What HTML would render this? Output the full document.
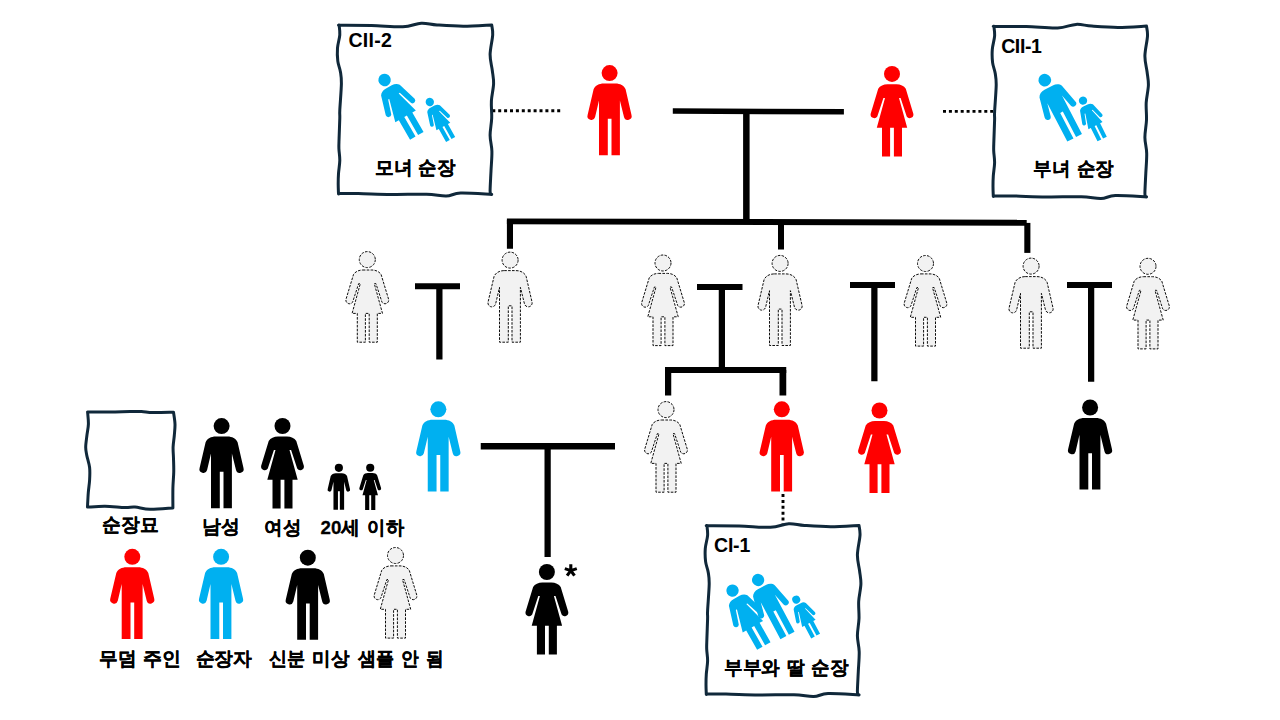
<!DOCTYPE html>
<html><head><meta charset="utf-8"><style>
html,body{margin:0;padding:0;background:#fff;width:1280px;height:720px;overflow:hidden}
svg{position:absolute;left:0;top:0;font-family:"Liberation Sans",sans-serif}
</style></head><body>
<svg width="1280" height="720" viewBox="0 0 1280 720">
<defs>
<g id="m"><circle cx="22.1" cy="8.1" r="8"/><path d="M16.2,18.6 H28 C32.5,18.6 36.6,20.7 38.1,24.3 L44,49.9 A3.85,3.85 0 0 1 36.5,52.0 L32.4,35.4 V90.2 H24 V53.8 H20.3 V90.2 H11.5 V35.4 L7.6,52.0 A3.85,3.85 0 0 1 0.1,49.9 L6.1,24.3 C7.6,20.7 11.7,18.6 16.2,18.6 Z"/></g>
<g id="f"><circle cx="22" cy="8" r="8"/><path d="M17.5,18.4 H26.5 C30.5,18.4 34,20 35.8,22.9 L43.4,48 A3.7,3.7 0 0 1 36.7,50.6 L30.6,32 H29 L37.2,61.8 H32 V90.6 H23.9 V61.8 H20.1 V90.6 H12 V61.8 H6.8 L15,32 H13.4 L7.3,50.6 A3.7,3.7 0 0 1 0.6,48 L8.2,22.9 C10,20 13.5,18.4 17.5,18.4 Z"/></g>
</defs>
<g fill="#000">
<polygon points="672.8,108.3 843.9,109 843.9,114.5 672.8,113.8"/>
<rect x="743.1" y="111" width="6.5" height="110"/>
<polygon points="506.9,218.4 1026.7,219.8 1026.7,225.7 506.9,224.3"/>
<rect x="506.9" y="220" width="6.100000000000023" height="28.75"/>
<rect x="778" y="222" width="6" height="27.5"/>
<rect x="1024.3" y="222.9" width="6.100000000000136" height="30.0"/>
<rect x="415" y="283.25" width="45" height="6.0"/>
<rect x="436.25" y="286" width="6.25" height="73.5"/>
<rect x="697" y="284" width="45.5" height="6"/>
<rect x="718.75" y="287" width="6.25" height="83"/>
<rect x="665" y="367" width="121.25" height="6"/>
<rect x="665" y="370" width="6.25" height="25.5"/>
<rect x="779.5" y="370" width="6.75" height="25.5"/>
<rect x="850" y="282" width="45" height="6"/>
<rect x="871.25" y="285" width="6.25" height="96.25"/>
<rect x="1067" y="282" width="45" height="6"/>
<rect x="1088" y="285" width="6.25" height="96.75"/>
<rect x="480.75" y="443" width="134.25" height="6.5"/>
<rect x="544.5" y="446" width="6.25" height="111"/>
</g>
<g stroke="#000" stroke-width="2.9" stroke-dasharray="3 2.9">
<line x1="492.3" y1="110.8" x2="562" y2="110.8"/>
<line x1="943" y1="111.4" x2="993" y2="111.4"/>
<line x1="783" y1="494" x2="783" y2="524"/>
</g>
<path d="M338.50,25.20 C343.99,25.23 360.71,25.13 371.44,25.40 C382.16,25.67 394.55,27.17 402.84,26.80 C411.14,26.43 415.53,23.52 421.23,23.20 C426.92,22.88 430.01,24.40 437.01,24.90 C444.00,25.40 454.09,26.20 463.20,26.20 C472.32,26.20 486.95,25.12 491.70,24.90 L491.70,25.00 C491.87,26.63 492.97,29.87 492.70,34.80 C492.43,39.73 490.17,48.63 490.10,54.58 C490.03,60.52 491.72,65.62 492.30,70.46 C492.88,75.31 493.75,78.57 493.60,83.64 C493.45,88.71 491.72,95.13 491.40,100.88 C491.08,106.63 491.92,112.37 491.70,118.12 C491.48,123.87 490.07,129.84 490.10,135.36 C490.13,140.88 491.75,145.30 491.90,151.24 C492.05,157.19 491.30,164.42 491.00,171.02 C490.70,177.61 490.10,186.96 490.10,190.79 C490.10,194.62 490.85,193.46 491.00,194.00 L491.70,194.40 C486.52,194.18 468.18,192.82 460.60,193.10 C453.02,193.38 451.89,195.92 446.20,196.10 C440.51,196.28 435.63,194.48 426.44,194.20 C417.24,193.92 402.41,194.52 391.05,194.40 C379.69,194.28 367.02,193.65 358.26,193.50 C349.50,193.35 341.79,193.50 338.50,193.50 L338.50,194.00 C338.45,192.34 338.20,187.44 338.20,184.03 C338.20,180.62 338.23,177.49 338.50,173.55 C338.77,169.61 339.73,164.54 339.80,160.37 C339.87,156.20 339.02,152.26 338.90,148.54 C338.78,144.82 338.95,143.13 339.10,138.06 C339.25,132.99 339.68,122.79 339.80,118.12 C339.92,113.44 339.53,115.75 339.80,110.01 C340.07,104.26 341.30,90.04 341.40,83.64 C341.50,77.25 341.00,75.39 340.40,71.64 C339.80,67.90 338.28,65.11 337.80,61.17 C337.32,57.22 337.17,52.38 337.50,47.98 C337.83,43.59 339.53,38.63 339.80,34.80 C340.07,30.97 339.22,26.63 339.10,25.00 Z" fill="none" stroke="#10283a" stroke-width="3" stroke-linejoin="round"/>
<path d="M993.30,26.40 C998.79,26.43 1015.51,26.33 1026.24,26.60 C1036.96,26.87 1049.35,28.37 1057.64,28.00 C1065.94,27.63 1070.33,24.72 1076.03,24.40 C1081.72,24.08 1084.81,25.60 1091.81,26.10 C1098.80,26.60 1108.89,27.40 1118.00,27.40 C1127.12,27.40 1141.75,26.32 1146.50,26.10 L1146.50,26.20 C1146.67,27.85 1147.77,31.11 1147.50,36.08 C1147.23,41.04 1144.97,50.01 1144.90,56.00 C1144.83,61.99 1146.52,67.13 1147.10,72.01 C1147.68,76.89 1148.55,80.19 1148.40,85.29 C1148.25,90.40 1146.52,96.87 1146.20,102.66 C1145.88,108.45 1146.72,114.25 1146.50,120.04 C1146.28,125.83 1144.87,131.84 1144.90,137.41 C1144.93,142.97 1146.55,147.43 1146.70,153.41 C1146.85,159.40 1146.10,166.70 1145.80,173.34 C1145.50,179.98 1144.90,189.40 1144.90,193.26 C1144.90,197.12 1145.65,195.96 1145.80,196.50 L1146.50,196.90 C1141.32,196.68 1122.98,195.32 1115.40,195.60 C1107.82,195.88 1106.69,198.42 1101.00,198.60 C1095.31,198.78 1090.43,196.98 1081.24,196.70 C1072.04,196.42 1057.21,197.02 1045.85,196.90 C1034.49,196.78 1021.82,196.15 1013.06,196.00 C1004.30,195.85 996.59,196.00 993.30,196.00 L993.30,196.50 C993.25,194.83 993.00,189.89 993.00,186.45 C993.00,183.02 993.03,179.87 993.30,175.89 C993.57,171.92 994.53,166.81 994.60,162.61 C994.67,158.41 993.82,154.44 993.70,150.69 C993.58,146.94 993.75,145.24 993.90,140.13 C994.05,135.02 994.48,124.75 994.60,120.04 C994.72,115.32 994.33,117.65 994.60,111.86 C994.87,106.07 996.10,91.74 996.20,85.29 C996.30,78.85 995.80,76.98 995.20,73.20 C994.60,69.43 993.08,66.62 992.60,62.64 C992.12,58.67 991.97,53.79 992.30,49.36 C992.63,44.93 994.33,39.94 994.60,36.08 C994.87,32.22 994.02,27.85 993.90,26.20 Z" fill="none" stroke="#10283a" stroke-width="3" stroke-linejoin="round"/>
<path d="M706.30,525.70 C711.77,525.73 728.44,525.63 739.13,525.90 C749.82,526.17 762.16,527.67 770.43,527.30 C778.71,526.93 783.08,524.02 788.76,523.70 C794.43,523.38 797.51,524.90 804.49,525.40 C811.46,525.90 821.51,526.70 830.60,526.70 C839.68,526.70 854.27,525.62 859.00,525.40 L859.00,525.50 C859.17,527.13 860.27,530.37 860.00,535.30 C859.73,540.23 857.47,549.13 857.40,555.08 C857.33,561.02 859.02,566.12 859.60,570.96 C860.18,575.81 861.05,579.07 860.90,584.14 C860.75,589.21 859.02,595.63 858.70,601.38 C858.38,607.13 859.22,612.87 859.00,618.62 C858.78,624.37 857.37,630.34 857.40,635.86 C857.43,641.38 859.05,645.80 859.20,651.74 C859.35,657.69 858.60,664.92 858.30,671.52 C858.00,678.11 857.40,687.46 857.40,691.29 C857.40,695.12 858.15,693.96 858.30,694.50 L859.00,694.90 C853.83,694.68 835.56,693.32 828.00,693.60 C820.44,693.88 819.32,696.42 813.65,696.60 C807.97,696.78 803.11,694.98 793.95,694.70 C784.79,694.42 770.00,695.02 758.68,694.90 C747.35,694.78 734.73,694.15 726.00,694.00 C717.27,693.85 709.58,694.00 706.30,694.00 L706.30,694.50 C706.25,692.84 706.00,687.94 706.00,684.53 C706.00,681.12 706.03,677.99 706.30,674.05 C706.57,670.11 707.53,665.04 707.60,660.87 C707.67,656.70 706.82,652.76 706.70,649.04 C706.58,645.32 706.75,643.63 706.90,638.56 C707.05,633.49 707.48,623.29 707.60,618.62 C707.72,613.94 707.33,616.25 707.60,610.51 C707.87,604.76 709.10,590.54 709.20,584.14 C709.30,577.75 708.80,575.89 708.20,572.14 C707.60,568.40 706.08,565.61 705.60,561.67 C705.12,557.72 704.97,552.88 705.30,548.48 C705.63,544.09 707.33,539.13 707.60,535.30 C707.87,531.47 707.02,527.13 706.90,525.50 Z" fill="none" stroke="#10283a" stroke-width="3" stroke-linejoin="round"/>
<path d="M87.5,411.9 C91.25,411.92 102.92,412.07 110.00,412.00 C117.08,411.93 124.75,411.58 130.00,411.50 C135.25,411.42 137.68,411.32 141.50,411.50 C145.32,411.68 147.57,412.48 152.90,412.60 C158.23,412.73 170.07,412.31 173.50,412.25 L173.5,412.25 C173.75,414.23 174.87,420.23 175.00,424.10 C175.13,427.98 174.62,431.68 174.30,435.50 C173.98,439.32 173.23,443.18 173.10,447.00 C172.97,450.82 173.39,454.28 173.50,458.40 C173.61,462.52 173.85,466.72 173.75,471.70 C173.65,476.68 173.04,482.33 172.90,488.30 C172.76,494.27 172.90,504.30 172.90,507.50 L172.9,507.9 C169.08,508.12 156.32,509.33 150.00,509.20 C143.68,509.07 139.17,507.38 135.00,507.10 C130.83,506.82 130.00,507.64 125.00,507.50 C120.00,507.36 111.25,506.32 105.00,506.25 C98.75,506.18 90.42,506.96 87.50,507.10 L87.5,506.7 C87.63,504.33 87.95,496.95 88.30,492.50 C88.65,488.05 89.38,484.17 89.60,480.00 C89.82,475.83 90.08,471.67 89.60,467.50 C89.12,463.33 87.35,458.42 86.70,455.00 C86.05,451.58 85.67,450.25 85.70,447.00 C85.73,443.75 86.45,439.32 86.90,435.50 C87.35,431.68 88.28,428.03 88.40,424.10 C88.52,420.17 87.73,413.93 87.60,411.90 Z" fill="none" stroke="#10283a" stroke-width="3" stroke-linejoin="round"/>
<use href="#m" x="587.5" y="65" fill="#ff0000"/>
<use href="#f" x="870" y="65.9" fill="#ff0000"/>
<use href="#f" x="345.3" y="251.6" fill="#f2f2f2" stroke="#000" stroke-width="0.95" stroke-dasharray="2.6 1.3"/>
<use href="#m" x="488" y="252" fill="#f2f2f2" stroke="#000" stroke-width="0.95" stroke-dasharray="2.6 1.3"/>
<use href="#f" x="641" y="255" fill="#f2f2f2" stroke="#000" stroke-width="0.95" stroke-dasharray="2.6 1.3"/>
<use href="#m" x="758" y="255.3" fill="#f2f2f2" stroke="#000" stroke-width="0.95" stroke-dasharray="2.6 1.3"/>
<use href="#f" x="903.5" y="255.5" fill="#f2f2f2" stroke="#000" stroke-width="0.95" stroke-dasharray="2.6 1.3"/>
<use href="#m" x="1009" y="258" fill="#f2f2f2" stroke="#000" stroke-width="0.95" stroke-dasharray="2.6 1.3"/>
<use href="#f" x="1126" y="258.3" fill="#f2f2f2" stroke="#000" stroke-width="0.95" stroke-dasharray="2.6 1.3"/>
<use href="#m" x="416.25" y="401.25" fill="#00b0f0"/>
<use href="#f" x="644" y="401.6" fill="#f2f2f2" stroke="#000" stroke-width="0.95" stroke-dasharray="2.6 1.3"/>
<use href="#m" x="759.7" y="401.25" fill="#ff0000"/>
<use href="#f" x="857.5" y="402.5" fill="#ff0000"/>
<use href="#m" x="1068" y="399.4" fill="#000000"/>
<use href="#f" x="524.9" y="564" fill="#000000"/>
<use href="#m" x="199.5" y="418" fill="#000000"/>
<use href="#f" x="260.5" y="418" fill="#000000"/>
<use href="#m" transform="translate(327.6,463.7) scale(0.51)" fill="#000000"/>
<use href="#f" transform="translate(359,463.7) scale(0.51)" fill="#000000"/>
<use href="#m" x="110.2" y="548.7" fill="#ff0000"/>
<use href="#m" x="199" y="548.7" fill="#00b0f0"/>
<use href="#m" x="285.7" y="549.6" fill="#000000"/>
<use href="#f" x="373.5" y="547.5" fill="#f2f2f2" stroke="#000" stroke-width="0.95" stroke-dasharray="2.6 1.3"/>
<use href="#f" transform="translate(384.6,80) rotate(-30) scale(0.78) translate(-22,-8)" fill="#00b0f0"/>
<use href="#f" transform="translate(429.8,102) rotate(-29) scale(0.52) translate(-22,-8)" fill="#00b0f0"/>
<use href="#m" transform="translate(1044.8,80.2) rotate(-27.5) scale(0.79) translate(-22.1,-8.1)" fill="#00b0f0"/>
<use href="#f" transform="translate(1083,100.6) rotate(-26.5) scale(0.52) translate(-22,-8)" fill="#00b0f0"/>
<use href="#f" transform="translate(732.5,590.6) rotate(-29.5) scale(0.77) translate(-22,-8)" fill="#00b0f0"/>
<use href="#m" transform="translate(758.1,580) rotate(-28) scale(0.765) translate(-22.1,-8.1)" fill="#00b0f0"/>
<use href="#f" transform="translate(796.25,599.6) rotate(-28) scale(0.5) translate(-22,-8)" fill="#00b0f0"/>
<text x="348.4" y="47" font-size="19.5" text-anchor="start" font-family="Liberation Sans, sans-serif" font-weight="bold" letter-spacing="0.3">CII-2</text>
<text x="1001.2" y="53.3" font-size="19.5" text-anchor="start" font-family="Liberation Sans, sans-serif" font-weight="bold" letter-spacing="-0.4">CII-1</text>
<text x="714" y="551.7" font-size="19.5" text-anchor="start" font-family="Liberation Sans, sans-serif" font-weight="bold" letter-spacing="-0.2">CI-1</text>
<text transform="translate(375.9,173.50) scale(0.983,1)" x="-1" y="0" font-size="19" font-family="Liberation Sans, sans-serif" font-weight="bold" stroke="#000" stroke-width="0.25">모녀</text>
<text transform="translate(418.9,173.50) scale(0.97,1)" x="-1" y="0" font-size="19" font-family="Liberation Sans, sans-serif" font-weight="bold" stroke="#000" stroke-width="0.25">순장</text>
<text transform="translate(1034,175.00) scale(0.971,1)" x="-1" y="0" font-size="19" font-family="Liberation Sans, sans-serif" font-weight="bold" stroke="#000" stroke-width="0.25">부녀</text>
<text transform="translate(1077.7,175.00) scale(0.973,1)" x="-1" y="0" font-size="19" font-family="Liberation Sans, sans-serif" font-weight="bold" stroke="#000" stroke-width="0.25">순장</text>
<text transform="translate(724.8,673.60) scale(0.979,1)" x="-1" y="0" font-size="19" font-family="Liberation Sans, sans-serif" font-weight="bold" stroke="#000" stroke-width="0.25">부부와</text>
<text transform="translate(787.8,673.60) scale(0.93,1)" x="-1" y="0" font-size="19" font-family="Liberation Sans, sans-serif" font-weight="bold" stroke="#000" stroke-width="0.25">딸</text>
<text transform="translate(812.4,673.60) scale(0.976,1)" x="-1" y="0" font-size="19" font-family="Liberation Sans, sans-serif" font-weight="bold" stroke="#000" stroke-width="0.25">순장</text>
<text transform="translate(103.1,531.30) scale(0.989,1)" x="-1" y="0" font-size="19" font-family="Liberation Sans, sans-serif" font-weight="bold" stroke="#000" stroke-width="0.25">순장묘</text>
<text transform="translate(203.75,533.30) scale(0.993,1)" x="-2" y="0" font-size="19" font-family="Liberation Sans, sans-serif" font-weight="bold" stroke="#000" stroke-width="0.25">남성</text>
<text transform="translate(265.2,533.80) scale(0.971,1)" x="-1" y="0" font-size="19" font-family="Liberation Sans, sans-serif" font-weight="bold" stroke="#000" stroke-width="0.25">여성</text>
<text transform="translate(320.5,533.90) scale(0.987,1)" x="0" y="0" font-size="19" font-family="Liberation Sans, sans-serif" font-weight="bold" stroke="#000" stroke-width="0.25">20세</text>
<text transform="translate(368.2,533.90) scale(0.961,1)" x="-1" y="0" font-size="19" font-family="Liberation Sans, sans-serif" font-weight="bold" stroke="#000" stroke-width="0.25">이하</text>
<text transform="translate(99.8,665.30) scale(0.98,1)" x="-1" y="0" font-size="19" font-family="Liberation Sans, sans-serif" font-weight="bold" stroke="#000" stroke-width="0.25">무덤</text>
<text transform="translate(143.9,665.30) scale(0.994,1)" x="-1" y="0" font-size="19" font-family="Liberation Sans, sans-serif" font-weight="bold" stroke="#000" stroke-width="0.25">주인</text>
<text transform="translate(196.6,664.90) scale(0.986,1)" x="-1" y="0" font-size="19" font-family="Liberation Sans, sans-serif" font-weight="bold" stroke="#000" stroke-width="0.25">순장자</text>
<text transform="translate(269,665.30) scale(0.949,1)" x="0" y="0" font-size="19" font-family="Liberation Sans, sans-serif" font-weight="bold" stroke="#000" stroke-width="0.25">신분</text>
<text transform="translate(313.1,665.30) scale(0.973,1)" x="-1" y="0" font-size="19" font-family="Liberation Sans, sans-serif" font-weight="bold" stroke="#000" stroke-width="0.25">미상</text>
<text transform="translate(357.8,665.30) scale(0.951,1)" x="0" y="0" font-size="19" font-family="Liberation Sans, sans-serif" font-weight="bold" stroke="#000" stroke-width="0.25">샘플</text>
<text transform="translate(402,665.30) scale(0.931,1)" x="-1" y="0" font-size="19" font-family="Liberation Sans, sans-serif" font-weight="bold" stroke="#000" stroke-width="0.25">안</text>
<text transform="translate(427.3,665.30) scale(0.931,1)" x="-1" y="0" font-size="19" font-family="Liberation Sans, sans-serif" font-weight="bold" stroke="#000" stroke-width="0.25">됨</text>
<path d="M570.8,570.6 L570.80,564.30 M570.8,570.6 L576.79,568.65 M570.8,570.6 L564.81,568.65 M570.8,570.6 L574.50,575.70 M570.8,570.6 L567.10,575.70" stroke="#000" stroke-width="3.1" fill="none"/>
</svg>
</body></html>
